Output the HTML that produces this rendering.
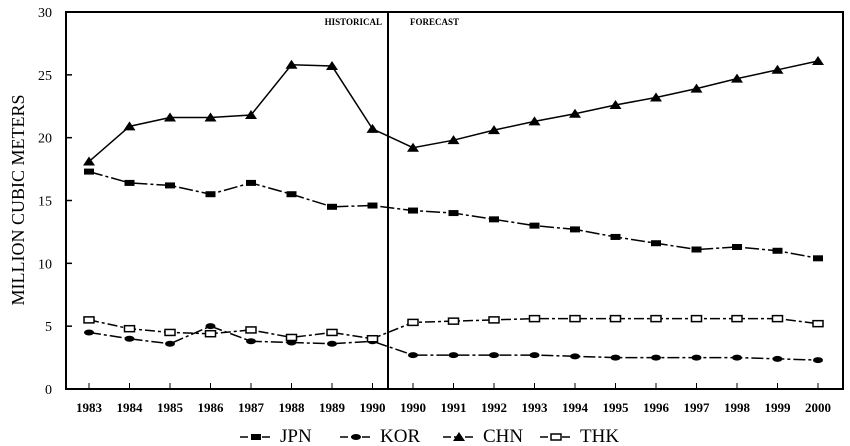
<!DOCTYPE html>
<html><head><meta charset="utf-8"><style>
html,body{margin:0;padding:0;background:#fff;}
svg{display:block;font-family:"Liberation Serif",serif;}
</style></head><body>
<svg id="chart" width="850" height="446" viewBox="0 0 850 446">
<rect x="66" y="12" width="777" height="377" fill="none" stroke="#000" stroke-width="2"/>
<line x1="388" y1="12" x2="388" y2="389" stroke="#000" stroke-width="2"/>
<text x="382" y="25" font-size="9" font-weight="bold" text-anchor="end">HISTORICAL</text>
<text x="410" y="25" font-size="9" font-weight="bold">FORECAST</text>
<text transform="translate(24,200) rotate(-90)" font-size="18" text-anchor="middle">MILLION CUBIC METERS</text>
<g id="axes"></g>
<g id="series"></g>
<g id="legend"></g>
</svg>
<script>
const categories = ["1983","1984","1985","1986","1987","1988","1989","1990","1990","1991","1992","1993","1994","1995","1996","1997","1998","1999","2000"];
const yTicks = [0,5,10,15,20,25,30];
const jpn = [17.3,16.4,16.2,15.5,16.4,15.5,14.5,14.6,14.2,14.0,13.5,13.0,12.7,12.1,11.6,11.1,11.3,11.0,10.4];
const kor = [4.5,4.0,3.6,5.0,3.8,3.7,3.6,3.8,2.7,2.7,2.7,2.7,2.6,2.5,2.5,2.5,2.5,2.4,2.3];
const chn = [18.1,20.9,21.6,21.6,21.8,25.8,25.7,20.7,19.2,19.8,20.6,21.3,21.9,22.6,23.2,23.9,24.7,25.4,26.1];
const thk = [5.5,4.8,4.5,4.4,4.7,4.1,4.5,4.0,5.3,5.4,5.5,5.6,5.6,5.6,5.6,5.6,5.6,5.6,5.2];
const seriesNames = ["JPN","KOR","CHN","THK"];

const NS="http://www.w3.org/2000/svg";
function xPos(i){return 89+i*40.5;}
function yPos(v){return 389-v*(377/30);}
function mk(tag,attrs,parent){const e=document.createElementNS(NS,tag);for(const k in attrs)e.setAttribute(k,attrs[k]);parent.appendChild(e);return e;}
const axes=document.getElementById('axes');
yTicks.forEach(t=>{
  const l=mk('line',{x1:66,x2:72,y1:yPos(t),y2:yPos(t),stroke:'#000','stroke-width':1.5},axes);
  
  
  const tx=mk('text',{x:52,y:yPos(t)+5,'font-size':14,'text-anchor':'end'},axes);
  tx.textContent=t;
  
  
});
categories.forEach((c,i)=>{
  const l=mk('line',{x1:xPos(i),x2:xPos(i),y1:389,y2:383,stroke:'#000','stroke-width':1},axes);
  
  
  const tx=mk('text',{x:xPos(i),y:412,'font-size':13,'font-weight':'bold','text-anchor':'middle'},axes);
  tx.textContent=c;
  
  
});
const sg=document.getElementById('series');
function marker(kind,x,y,g){
  let e;
  if(kind==='sq') e=mk('rect',{x:x-5,y:y-3,width:10,height:6,fill:'#000'},g);
  else if(kind==='dia') e=mk('ellipse',{cx:x,cy:y,rx:5,ry:3,fill:'#000'},g);
  else if(kind==='tri') e=mk('polygon',{points:`${x-6},${y+4} ${x+6},${y+4} ${x},${y-5}`,fill:'#000'},g);
  else e=mk('rect',{x:x-5,y:y-3,width:10,height:6,fill:'#fff',stroke:'#000','stroke-width':1.5},g);
  
  
}
function drawSeries(vals,kind,dash,name){
  const g=mk('g',{},sg);
  
  
  const p=mk('polyline',{points:vals.map((v,i)=>xPos(i)+','+yPos(v)).join(' '),fill:'none',stroke:'#000','stroke-width':1.5,'stroke-dasharray':dash},g);
  
  
  vals.forEach((v,i)=>marker(kind,xPos(i),yPos(v),g));
}
drawSeries(jpn,'sq','14 3 3 3','jpn');
drawSeries(kor,'dia','12 3 3 3','kor');
drawSeries(chn,'tri','none','chn');
drawSeries(thk,'open','10 3 3 3','thk');
const lg=document.getElementById('legend');
const kinds=['sq','dia','tri','open'];
const lx=[240,340,443,540];
seriesNames.forEach((n,i)=>{
  const g=mk('g',{},lg);
  
  
  mk('line',{x1:lx[i],x2:lx[i]+32,y1:437,y2:437,stroke:'#000','stroke-width':1.5,'stroke-dasharray':'8 3'},g);
  marker(kinds[i],lx[i]+16,437,g);
  const t=mk('text',{x:lx[i]+40,y:442,'font-size':19},g);
  t.textContent=n;
  
  
});
</script>
</body></html>
